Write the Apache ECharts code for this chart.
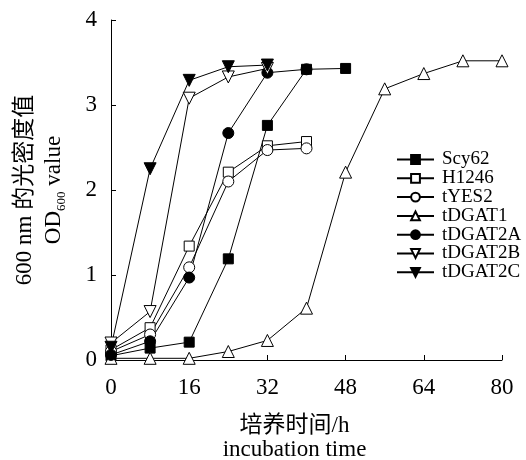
<!DOCTYPE html>
<html>
<head>
<meta charset="utf-8">
<script src="https://cdn.jsdelivr.net/npm/echarts@6/dist/echarts.min.js"></script>
<style>html,body{margin:0;padding:0;background:#fff;}#c{width:526px;height:460px;}</style>
</head>
<body>
<div id="c"></div>
<script>
const hours = [0, 8, 16, 24, 32, 40, 48, 56, 64, 72, 80];
const scy62 = [0.05, 0.14, 0.21, 1.19, 2.76, 3.42, 3.43];
const h1246 = [0.12, 0.38, 1.34, 2.21, 2.52, 2.57];
const tYES2 = [0.10, 0.30, 1.09, 2.10, 2.47, 2.49];
const tDGAT1 = [0.02, 0.02, 0.02, 0.10, 0.23, 0.61, 2.21, 3.19, 3.37, 3.52, 3.52];
const tDGAT2A = [0.06, 0.22, 0.97, 2.67, 3.38, 3.42];
const tDGAT2B = [0.20, 0.57, 3.08, 3.33, 3.43];
const tDGAT2C = [0.15, 2.25, 3.29, 3.45, 3.47];
const xTicks = [0, 16, 32, 48, 64, 80];
const yTicks = [0, 1, 2, 3, 4];

const FONT = "'Liberation Serif', 'Times New Roman', 'Noto Sans CJK SC', serif";

function pairs(vals) { return vals.map((v, i) => [hours[i], v]); }

const defs = [
  { name: 'Scy62', data: scy62, symbol: 'rect', size: 10, fill: '#000' },
  { name: 'H1246', data: h1246, symbol: 'rect', size: 10, fill: '#fff' },
  { name: 'tYES2', data: tYES2, symbol: 'circle', size: 11, fill: '#fff' },
  { name: 'tDGAT1', data: tDGAT1, symbol: 'triangle', size: 12, fill: '#fff' },
  { name: 'tDGAT2A', data: tDGAT2A, symbol: 'circle', size: 11, fill: '#000' },
  { name: 'tDGAT2B', data: tDGAT2B, symbol: 'triangle', size: 12, fill: '#fff', rotate: 180 },
  { name: 'tDGAT2C', data: tDGAT2C, symbol: 'triangle', size: 12, fill: '#000', rotate: 180 }
];

const series = defs.map(d => ({
  name: d.name,
  type: 'line',
  data: pairs(d.data),
  symbol: d.symbol,
  symbolSize: d.size,
  symbolRotate: d.rotate || 0,
  showAllSymbol: true,
  animation: false,
  lineStyle: { color: '#000', width: 1 },
  itemStyle: { color: d.fill, borderColor: '#000', borderWidth: 1 },
  emphasis: { disabled: true }
}));

const chart = echarts.init(document.getElementById('c'));
chart.setOption({
  backgroundColor: '#fff',
  animation: false,
  grid: { left: 111, right: 24, top: 20, bottom: 100, containLabel: false, outerBoundsMode: 'none' },
  legend: {
    orient: 'vertical',
    left: 391,
    top: 145,
    itemWidth: 37,
    itemHeight: 11,
    itemGap: -0.2,
    textStyle: { fontFamily: FONT, fontSize: 19, color: '#000', padding: [0, 0, 0, 3] },
    data: defs.map(d => d.name)
  },
  xAxis: {
    type: 'value',
    min: 0, max: 80, interval: 16,
    name: '培养时间/h\nincubation time',
    nameLocation: 'middle',
    nameGap: 54,
    nameTextStyle: { fontFamily: FONT, fontSize: 23, color: '#000', lineHeight: 24, padding: [0, 24, 0, 0] },
    axisLine: { lineStyle: { color: '#000', width: 1 } },
    axisTick: { inside: true, length: 5, lineStyle: { color: '#000' } },
    axisLabel: { fontFamily: FONT, fontSize: 23, color: '#000', margin: 16,
      formatter: v => xTicks.includes(v) ? String(v) : '' },
    splitLine: { show: false }
  },
  yAxis: {
    type: 'value',
    min: 0, max: 4, interval: 1,
    name: '600 nm 的光密度值\n{n|OD}{s|600}{n| value}',
    nameLocation: 'middle',
    nameRotate: 90,
    nameGap: 43,
    nameTextStyle: { fontFamily: FONT, fontSize: 23, color: '#000', lineHeight: 29,
      rich: {
        n: { fontFamily: FONT, fontSize: 23, color: '#000', lineHeight: 29 },
        s: { fontFamily: FONT, fontSize: 13, color: '#000', lineHeight: 29, verticalAlign: 'bottom', padding: [12, 0, 0, 0] }
      }
    },
    axisLine: { show: true, lineStyle: { color: '#000', width: 1 } },
    axisTick: { show: true, inside: true, length: 5, lineStyle: { color: '#000' } },
    axisLabel: { fontFamily: FONT, fontSize: 23, color: '#000', margin: 14,
      formatter: v => yTicks.includes(v) ? String(v) : '' },
    splitLine: { show: false }
  },
  series: series
});
</script>
</body>
</html>
